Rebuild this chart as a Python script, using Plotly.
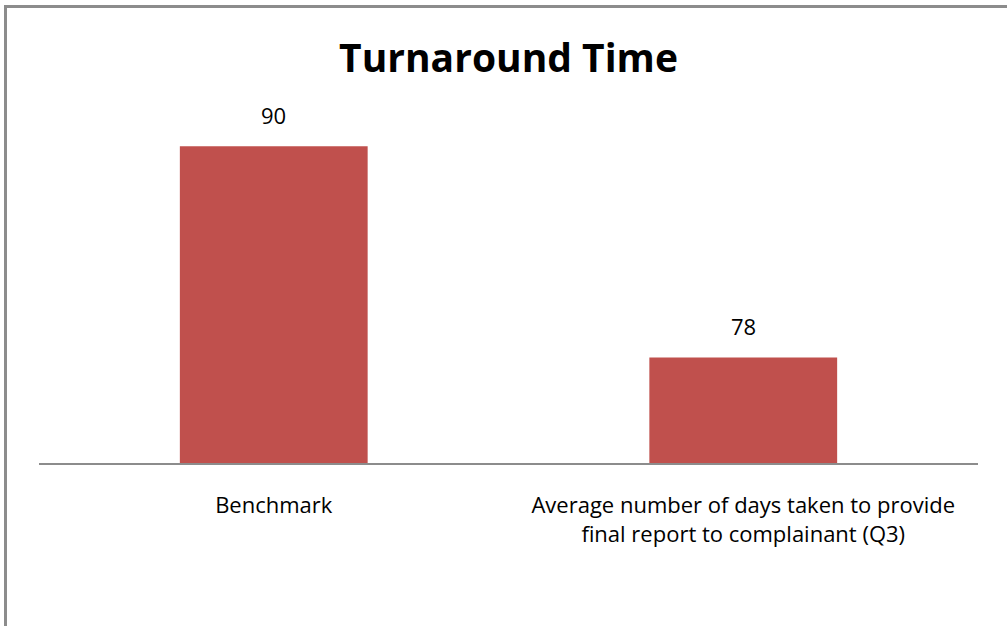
import plotly.graph_objects as go

categories = ["Benchmark", "Average number of days taken to provide<br>final report to complainant (Q3)"]
values = [90, 78]
title_text = "Turnaround Time"
bar_color = "#C0504D"

W, H = 1007, 626
ml, mr, mt, mb = 39, 29, 111, 163
pw, ph = W - ml - mr, H - mt - mb

fig = go.Figure()
fig.add_trace(go.Bar(x=categories, y=values, marker=dict(color=bar_color, line=dict(width=0)),
                     hoverinfo="skip"))

for c, v in zip(categories, values):
    fig.add_annotation(x=c, y=v, text=str(v), showarrow=False, yanchor="bottom",
                       yshift=14, font=dict(family="Open Sans", size=22, color="black"))

# outer chart border (extends past right and bottom edges)
fig.add_shape(type="rect", xref="paper", yref="paper",
              x0=(5.5 - ml) / pw, x1=1.2, y0=-1.0, y1=1 + (mt - 6.5) / ph,
              line=dict(color="#8c8c8c", width=3), fillcolor="rgba(0,0,0,0)", layer="below")

fig.update_layout(
    width=W, height=H,
    margin=dict(l=ml, r=mr, t=mt, b=mb),
    paper_bgcolor="white", plot_bgcolor="white",
    bargap=0.6,
    showlegend=False,
    title=dict(text="<b>" + title_text + "</b>", x=0.5, xref="paper", xanchor="center",
               y=1 - 58 / H, yanchor="middle",
               font=dict(family="Open Sans", size=39, color="black")),
    font=dict(family="Open Sans", color="black"),
)
fig.update_xaxes(showline=True, linecolor="#8c8c8c", linewidth=2, ticks="",
                 tickfont=dict(family="Open Sans", size=22, color="black"),
                 ticklabelstandoff=22, showgrid=False, zeroline=False, fixedrange=True)
fig.update_yaxes(range=[72, 92], visible=False, showgrid=False, zeroline=False, fixedrange=True)

fig.write_html("out.html", config={"displayModeBar": False},
               post_script="document.body.style.margin='0';document.body.style.overflow='hidden';")
